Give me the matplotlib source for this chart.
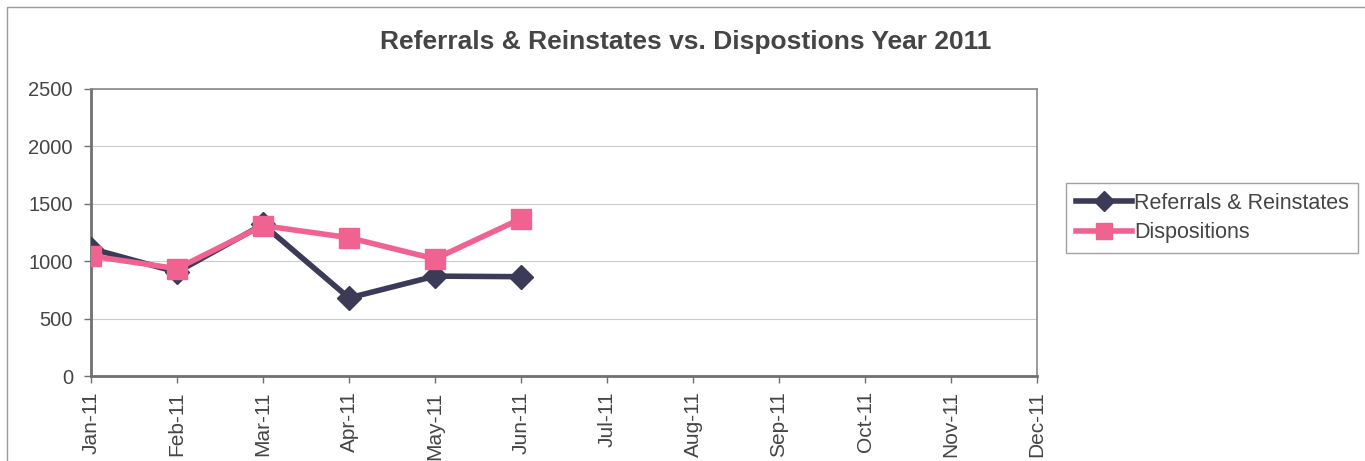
import matplotlib
matplotlib.use("Agg")
import matplotlib.pyplot as plt
from matplotlib.patches import Rectangle
from matplotlib.lines import Line2D

plt.rcParams['font.family'] = ['Liberation Sans', 'DejaVu Sans']

months = ["Jan-11", "Feb-11", "Mar-11", "Apr-11", "May-11", "Jun-11",
          "Jul-11", "Aug-11", "Sep-11", "Oct-11", "Nov-11", "Dec-11"]
referrals = [1110, 905, 1320, 680, 870, 865]
dispositions = [1045, 935, 1310, 1205, 1020, 1370]
y_ticks = [0, 500, 1000, 1500, 2000, 2500]

title = "Referrals & Reinstates vs. Dispostions Year 2011"
text_color = "#454545"
ref_color = "#3b3a57"
disp_color = "#f0628f"

W, H = 1365, 461
fig = plt.figure(figsize=(W / 100, H / 100), dpi=100)
fig.patch.set_facecolor("white")

# outer chart border (top-left visible)
fig.add_artist(Rectangle((7 / W, -0.05), 1.2, 1 - 7 / H + 0.05,
                         transform=fig.transFigure, fill=False,
                         edgecolor="#9a9a9a", linewidth=1.0))

ax = fig.add_axes([91 / W, 1 - 376 / H, (1037 - 91) / W, (376 - 89) / H])
x = list(range(len(months)))

ax.plot(x[:len(referrals)], referrals, color=ref_color, linewidth=4,
        marker="D", markersize=12, label="Referrals & Reinstates", zorder=3)
ax.plot(x[:len(dispositions)], dispositions, color=disp_color, linewidth=4,
        marker="s", markersize=14, label="Dispositions", zorder=4)

ax.set_xlim(0, len(months) - 1)
ax.set_ylim(0, 2500)
ax.set_yticks(y_ticks)
ax.set_yticklabels([str(v) for v in y_ticks], fontsize=14.5, color=text_color)
ax.set_xticks(x)
ax.set_xticklabels(months, rotation=90, fontsize=15, color=text_color)
ax.tick_params(axis="both", direction="out", length=5, color="#707070", width=1)
ax.tick_params(axis="x", pad=6)
ax.tick_params(axis="y", pad=8)

ax.grid(axis="y", color="#c8ccd0", linewidth=0.8)
ax.set_axisbelow(True)
for side in ["left", "bottom"]:
    ax.spines[side].set_color("#707070")
    ax.spines[side].set_linewidth(2)
for side in ["top", "right"]:
    ax.spines[side].set_color("#8a8a8a")
    ax.spines[side].set_linewidth(1.2)

fig.text(686 / W, 1 - 42 / H, title, ha="center", va="center",
         fontsize=19, fontweight="bold", color=text_color)

handles = [
    Line2D([0], [0], color=ref_color, linewidth=4, marker="D", markersize=10),
    Line2D([0], [0], color=disp_color, linewidth=4, marker="s", markersize=12),
]
leg = fig.legend(handles, ["Referrals & Reinstates", "Dispositions"],
                 loc="upper left", bbox_to_anchor=(1066 / W, 1 - 183 / H),
                 fontsize=15.5, frameon=True, fancybox=False,
                 borderpad=0.45, labelspacing=0.4, handlelength=2.6,
                 handletextpad=0.1, borderaxespad=0)
leg.get_frame().set_edgecolor("#8a8a8a")
leg.get_frame().set_linewidth(1.0)
for t in leg.get_texts():
    t.set_color(text_color)

fig.savefig("out.png", dpi=100, facecolor="white")
